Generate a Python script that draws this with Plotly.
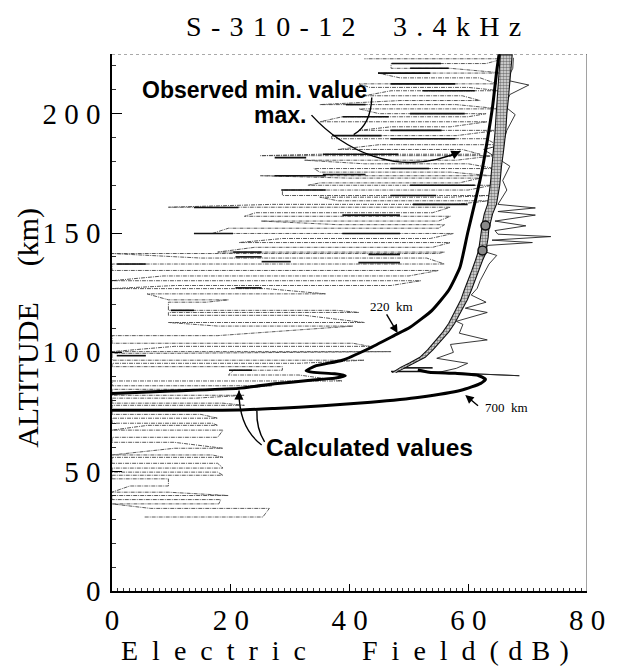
import plotly.graph_objects as go

# ---------------- data (dB, km) ----------------
# Calculated values, 220 km
calc220_db = [0, 10, 21.3, 27.4, 33.0, 37.5, 39.3, 37.5, 34.0, 32.7, 34.4, 38.8, 43.2, 47.5, 50.2,
              53.9, 56.7, 58.6, 59.9, 61.2, 62.3, 63.2, 64.1, 64.8, 65.2]
calc220_km = [82.8, 83.8, 84.9, 86.8, 88.2, 89.2, 90.2, 91.0, 91.6, 92.3, 94.4, 96.7, 101.5, 107.0, 110.5,
              117.6, 126.0, 135.6, 150.0, 163.6, 176.0, 188.7, 203.0, 218.0, 225.0]
# Calculated values, 700 km
calc700_db = [0, 21.3, 27.4, 35.5, 43.6, 51.8, 58.8, 62.1, 62.9, 61.6, 57.8, 53.4, 51.5]
calc700_km = [75.7, 75.8, 76.5, 77.6, 79.1, 81.2, 84.1, 87.0, 88.7, 90.4, 91.2, 91.7, 92.6]

# Observed band (dotted double line)
band_alt = [91.5, 93.7, 95.5, 97.9, 101.0, 105.0, 108.5, 112.1, 115.5, 118.8, 122.0, 125.9, 130.0, 134.3,
            138.5, 141.0, 142.7, 144.5, 148.0, 151.3, 153.1, 155.0, 158.0, 162.0, 170.0, 178.0, 184.5,
            192.0, 200.0, 206.0, 212.6, 218.0, 224.7]
band_lo = [47.2, 48.6, 50.1, 51.85, 53.15, 54.5, 55.7, 56.7, 57.45, 58.05, 58.75, 59.3, 60.0, 60.6,
           61.2, 61.55, 61.75, 61.85, 62.05, 62.15, 62.25, 62.45, 62.7, 63.25, 63.7, 64.0, 64.25,
           64.5, 64.7, 64.85, 65.0, 65.2, 65.4]
band_hi = [47.8, 49.4, 50.9, 52.75, 54.05, 55.5, 56.7, 57.7, 58.55, 59.15, 59.85, 60.5, 61.2, 61.8,
           62.4, 62.85, 63.05, 63.15, 63.35, 63.45, 63.55, 63.75, 64.1, 64.75, 65.3, 65.6, 65.95,
           66.3, 66.5, 66.75, 67.0, 67.2, 67.4]
blob_db = [62.4, 62.9]
blob_km = [142.7, 153.1]

# Observed min. value: horizontal excursions (altitude, left dB, right dB)
min_alt = [31.0, 34.6, 36.5, 38.3, 40.0, 41.4, 44.0, 47.0, 48.5, 49.8, 51.5, 53.5, 56.0, 57.0, 59.8,
           62.3, 64.4, 67.4, 69.4, 70.3, 72.4, 74.0, 77.8, 78.7, 80.8, 82.0,
           84.5, 86.0, 88.0, 90.5, 92.5, 94.0, 95.4, 96.7, 99.6, 100.3, 102.5, 103.8, 107.0, 111.0,
           112.5, 115.5, 116.7, 117.6, 121.0, 122.0, 124.5, 126.7, 128.0, 130.0, 132.0, 134.3, 137.0,
           139.5, 141.4, 142.0, 144.0, 146.0, 147.7, 149.8, 152.0, 153.5, 155.0, 157.0, 158.5, 160.8,
           162.0, 163.5, 165.0, 165.7, 168.0, 170.0, 171.0, 173.0, 174.0, 175.5, 177.0, 179.0, 180.5,
           182.4, 183.0, 185.0, 187.0, 189.5, 190.8, 193.0, 194.5, 196.6, 198.7, 200.0, 202.0, 203.8,
           205.5, 207.5, 209.6, 211.0, 212.5, 215.0, 217.0, 219.0, 221.0, 223.0]
min_left = [5.5, 6.5, 0, 0, 0, 0, 3, 0, 0, 0, 0, 0, 0, 0, 10.5, 0, 0, 0, 5.9, 0, 0, 0, 0, 0, 0, 0,
            0, 0, 0, 19.6, 20.5, 0, 0, 0, 0, 0, 10.5, 0, 0, 17.8, 9.5, 9.5, 9.5, 9.5, 9.5, 9.5, 5.9,
            0, 10.5, 0, 8.6, 0, 0, 15, 0, 17.8, 24, 21.4, 28.7, 16.9, 19.6, 37.9, 25.1, 22.3, 24.2,
            9.5,
            27, 38, 35, 28.7, 28.7, 33, 35, 39.7, 25, 35, 34, 42.5, 32.4, 25, 35, 38, 45, 37, 37, 41.6,
            47, 35, 38.8, 45, 41.6, 35, 48.5, 42.5, 47, 43.4, 41.6, 48.5, 44.8, 47, 47, 42.5]
min_right = [25.4, 26.5, 18, 18.3, 19.6, 9.5, 9.5, 9.5, 18.7, 17.8, 18.7, 17.8, 18.7, 16.9, 18.7,
             10.5, 17.8, 18.7, 17.8, 16.9, 17.8, 15.0, 22.3, 18.7, 14.1, 22.3,
             19.6, 26.9, 38.8, 31.5, 28.7, 28.7, 31.5, 42.5, 11.4, 47, 43.4, 40.6, 17.8, 40.6, 42.5,
             32.4, 41.6, 37.9, 15.9, 19.6, 36, 26, 47, 52, 50, 55, 56, 53, 55, 56, 54, 57, 53.6, 57.5,
             55, 56, 55, 57, 54, 57,
             58, 63.5, 57, 63.5, 60, 64, 58.5, 62, 64, 57, 64.5, 60, 58, 64.5, 62, 59, 64.8, 63, 58,
             65, 57, 63.2, 60, 63, 65.5, 58, 62, 59, 65.5, 60, 64.8, 62, 66, 57, 63, 66]
# dark (heavy) parts of the min trace
heavy_alt = [92.0, 93.5, 92.5, 98.6, 117.6, 127.0, 137.0, 137.6, 138.0, 140.0, 141.0, 142.0, 149.8,
             149.8, 157.5, 160.7, 162.0, 165.7, 168.0, 170.0, 174.0, 174.5, 177.0, 181.6, 183.0,
             189.5, 190.8, 193.0, 198.7, 200.0, 203.8, 209.6, 212.5, 217.0, 219.0, 221.0]
heavy_left = [47, 49, 19.7, 0.8, 9.9, 20.8, 0.8, 41.5, 25.2, 20.8, 43.2, 20.4, 13.8, 38.8, 38.8, 13.8,
              50.7, 46.9, 28.5, 50.2, 27.4, 35.5, 46.9, 27.4, 35.5, 46.9, 37.1, 46.9, 38.8, 50.2,
              39.4, 52.3, 46.9, 44.8, 50.2, 47.1]
heavy_right = [53, 54, 23.6, 5.7, 13.8, 25.2, 5.7, 48.5, 30.1, 25.2, 48.5, 25.2, 20.4, 48.5, 48.5,
               21.3, 59.9, 54.6, 36, 61.1, 36, 42.7, 53.4, 32.7, 48.2, 57.8, 45.4, 55.5, 46.6, 59.4,
               42.7, 61.1, 57.8, 53.6, 56.7, 55.4]

# Observed max. value
max_alt = [92.0, 90.2, 91.6, 93.3, 95.4, 97.5, 100.0, 103.3, 105.2, 108.0, 111.7, 113.0, 116.7, 118.5,
           121.0, 124.0, 126.8, 130.0, 134.0, 137.0, 140.6, 142.0, 144.8, 146.0, 147.0, 148.5, 149.5,
           151.0, 153.0, 155.0, 157.5, 159.0, 160.5, 162.0, 168.0, 172.0, 178.0, 185.0, 187.0, 193.0,
           199.6, 203.0, 208.0, 212.0, 214.0, 219.0, 223.4]
max_db = [51.5, 68.6, 55.0, 58.0, 59.9, 54.7, 57.5, 57.0, 63.2, 58.5, 59.1, 58.0, 63.2, 59.5, 63.0,
          60.5, 61.5, 62.0, 62.8, 63.5, 64.8, 63.0, 63.2, 70.8, 64.0, 73.9, 65.0, 64.5, 69.7, 64.5,
          71.3, 65.0, 71.3, 65.0, 66.5, 65.8, 67.0, 62.6, 65.8, 66.5, 67.9, 66.2, 67.0, 70.2, 66.5,
          67.5, 67.6]

x_ticks = [0, 20, 40, 60, 80]
x_ticktext = ["0", "2 0", "4 0", "6 0", "8 0"]
y_ticks = [0, 50, 100, 150, 200]
y_ticktext = ["0", "5 0", "1 0 0", "1 5 0", "2 0 0"]

SP = "\u2004"
EN = "\u2002"
title_text = SP.join("S-310-12") + EN + EN + SP + SP.join("3.4kHz")
xtitle_text = EN.join("Electric") + "\u2003\u2003" + EN.join("Field") + EN + SP.join("(dB)")
ytitle_text = "ALTITUDE\u2003\u2009(km)"

# ---------------- figure ----------------
fig = go.Figure()

zx, zy = [], []
for i, (h, l, r) in enumerate(zip(min_alt, min_left, min_right)):
    zx += [l, r] if i % 2 == 0 else [r, l]
    zy += [h, h]
fig.add_trace(go.Scatter(x=zx, y=zy, mode="lines",
                         line=dict(color="#4a4a4a", width=0.9, dash="4px,1px,1px,1px"),
                         hoverinfo="skip"))

hx, hy = [], []
for h, l, r in zip(heavy_alt, heavy_left, heavy_right):
    hx += [l, r, None]
    hy += [h, h, None]
fig.add_trace(go.Scatter(x=hx, y=hy, mode="lines", line=dict(color="#111", width=1.6),
                         hoverinfo="skip"))

fig.add_trace(go.Scatter(x=max_db, y=max_alt, mode="lines", line=dict(color="#222", width=0.9),
                         hoverinfo="skip"))

fig.add_trace(go.Scatter(x=band_lo + band_hi[::-1], y=band_alt + band_alt[::-1], mode="lines",
                         fill="toself", fillcolor="#bbbbbb",
                         fillpattern=dict(shape=".", fgcolor="#111", bgcolor="#e6e6e6", size=3,
                                          solidity=0.55),
                         line=dict(color="#111", width=1.1), hoverinfo="skip"))
fig.add_trace(go.Scatter(x=blob_db, y=blob_km, mode="markers",
                         marker=dict(size=9, color="#8a8a8a", line=dict(color="#111", width=1.5)),
                         hoverinfo="skip"))

fig.add_trace(go.Scatter(x=calc700_db, y=calc700_km, mode="lines",
                         line=dict(color="black", width=3, shape="spline", smoothing=0.5),
                         hoverinfo="skip"))
fig.add_trace(go.Scatter(x=calc220_db, y=calc220_km, mode="lines",
                         line=dict(color="black", width=3, shape="spline", smoothing=0.5),
                         hoverinfo="skip"))

# curved arrows (start, control, end) in data units
curved_arrows = [
    [(43.75, 206.8), (43.6, 195.5), (40.7, 191.2)],
    [(25.2, 61.2), (21.3, 68.5), (21.4, 84.0)],
    [(25.7, 62.5), (24.3, 68.0), (24.4, 75.5)],
]
shapes = []
annotations = []
for (s, c, e) in curved_arrows:
    shapes.append(dict(type="path", xref="x", yref="y",
                       path=f"M {s[0]},{s[1]} Q {c[0]},{c[1]} {e[0]},{e[1]}",
                       line=dict(color="black", width=1.4)))
    annotations.append(dict(x=e[0], y=e[1], ax=e[0] + 0.2 * (c[0] - e[0]), ay=e[1] + 0.2 * (c[1] - e[1]),
                            axref="x", ayref="y", xref="x", yref="y", text="", showarrow=True,
                            arrowhead=2, arrowsize=1.3, arrowwidth=1.4, arrowcolor="black"))
# cubic arrow for "max."
p0, p1, p2, p3 = (33.6, 199.4), (38.5, 186.0), (48.0, 172.0), (58.7, 184.3)
shapes.append(dict(type="path", xref="x", yref="y",
                   path=f"M {p0[0]},{p0[1]} C {p1[0]},{p1[1]} {p2[0]},{p2[1]} {p3[0]},{p3[1]}",
                   line=dict(color="black", width=1.4)))
annotations.append(dict(x=p3[0], y=p3[1], ax=p3[0] - 0.2 * (p3[0] - p2[0]), ay=p3[1] - 0.2 * (p3[1] - p2[1]),
                        axref="x", ayref="y", xref="x", yref="y", text="", showarrow=True,
                        arrowhead=2, arrowsize=1.3, arrowwidth=1.4, arrowcolor="black"))
# straight arrows
for (tail, head) in [((46.1, 116.5), (48.1, 108.1)), ((61.9, 77.1), (59.5, 82.1))]:
    annotations.append(dict(x=head[0], y=head[1], ax=tail[0], ay=tail[1], axref="x", ayref="y",
                            xref="x", yref="y", text="", showarrow=True, arrowhead=2, arrowsize=1.2,
                            arrowwidth=1.4, arrowcolor="black"))

# frame: right edge and dotted top
shapes.append(dict(type="line", xref="x", yref="y", x0=80, x1=80, y0=0, y1=225,
                   line=dict(color="#444", width=1)))
shapes.append(dict(type="line", xref="x", yref="y", x0=0, x1=80, y0=225, y1=225,
                   line=dict(color="#555", width=1.2, dash="dot")))

bold = dict(family="Liberation Sans, Arial, sans-serif", size=23, color="black")
bold24 = dict(family="Liberation Sans, Arial, sans-serif", size=24.5, color="black")
serif = "Liberation Serif, Times New Roman, serif"
labels = [
    ("<b>Observed min. value</b>", 24.0, 209.9, bold),
    ("<b>max.</b>", 28.35, 199.4, bold),
    ("<b>Calculated values</b>", 43.3, 60.3, bold24),
    ("220" + EN + "km", 47.1, 119.4, dict(family=serif, size=13, color="black")),
    ("700" + EN + "km", 66.5, 76.7, dict(family=serif, size=13, color="black")),
]
for txt, x, y, f in labels:
    annotations.append(dict(x=x, y=y, xref="x", yref="y", text=txt, showarrow=False, font=f,
                            xanchor="center", yanchor="middle"))
# titles (paper coordinates)
for txt, x, y, size, ang in [(title_text, 0.509, 1.052, 28, 0),
                             (xtitle_text, 0.491, -0.110, 28, 0),
                             (ytitle_text, -0.177, 0.490, 30, -90)]:
    annotations.append(dict(x=x, y=y, xref="paper", yref="paper", text=txt, showarrow=False,
                            font=dict(family=serif, size=size, color="black"),
                            xanchor="center", yanchor="middle", textangle=ang))

tickfont = dict(family=serif, size=29, color="black")
fig.update_layout(
    width=617, height=671, margin=dict(l=112, r=14, t=54, b=80),
    paper_bgcolor="white", plot_bgcolor="white", showlegend=False,
    shapes=shapes, annotations=annotations,
    xaxis=dict(range=[0, 80], tickvals=x_ticks, ticktext=x_ticktext, tickfont=tickfont,
               ticks="inside", ticklen=7, tickwidth=1.2, tickcolor="black",
               showline=True, linecolor="black", linewidth=1.6, showgrid=False, zeroline=False,
               minor=dict(dtick=1, ticks="inside", ticklen=3, tickwidth=0.8, tickcolor="#333",
                          showgrid=False),
               ticklabelstandoff=2, ticklabeloverflow="allow"),
    yaxis=dict(range=[0, 225], tickvals=y_ticks, ticktext=y_ticktext, tickfont=tickfont,
               ticks="inside", ticklen=10, tickwidth=1.3, tickcolor="black",
               showline=True, linecolor="black", linewidth=1.6, showgrid=False, zeroline=False,
               minor=dict(dtick=10, ticks="inside", ticklen=4, tickwidth=0.8, tickcolor="#333",
                          showgrid=False),
               ticklabelstandoff=4, ticklabeloverflow="allow"),
)

fig.write_html("out.html")
